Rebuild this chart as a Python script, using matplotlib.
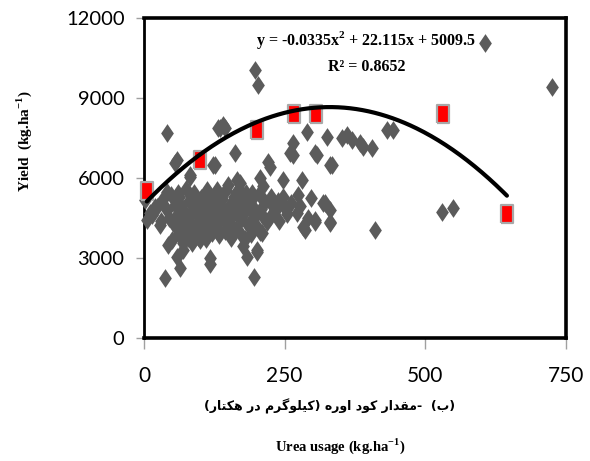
import numpy as np
import matplotlib
matplotlib.use("Agg")
import matplotlib.pyplot as plt
from matplotlib import font_manager as fm
from matplotlib.font_manager import FontProperties
from matplotlib.ft2font import FT2Font

# ---------------- data ----------------
field_x = [197, 203, 606, 725, 41, 135, 144, 131, 140,
           58, 82, 123, 162, 206, 220, 224, 247, 265, 259, 290, 281, 304, 325, 331,
           352, 361, 370, 384, 389, 405, 432, 443,
           411, 318, 331, 331, 304, 283, 530, 549,
           37, 64, 117, 195, 183, 201, 43, 69, 100, 210,
           5, 23, 41, 2, 10, 30, 15, 33, 48, 45, 20, 28, 50, 69, 58, 117,
           55, 126, 82, 165, 41, 60, 130, 171, 192, 183, 201, 206, 224, 227, 251, 272,
           291, 304, 322, 331, 286, 247, 274, 334, 307, 265,
           55, 55, 58, 62, 62, 65, 70, 72, 74, 78, 80, 80, 85, 88, 88, 92, 95, 96,
           100, 102, 104, 108, 110, 112, 115, 118, 120, 122, 126, 128, 130, 134, 136,
           138, 142, 144, 146, 150, 152, 155, 158, 160, 163, 166, 168, 170, 172, 175,
           178, 180, 182, 185, 188, 190, 192, 195, 198, 200, 205, 210, 215, 218, 225,
           66, 76, 90, 98, 106, 114, 124, 132, 140, 148, 156, 164, 174, 186, 196, 208,
           232, 238, 255, 262, 278, 296, 240, 212, 86, 150, 176]
field_y = [10050, 9500, 11060, 9410, 7690, 7870, 7870, 7870, 7990,
           6680, 6040, 6490, 6940, 6000, 6600, 6400, 5920, 7310, 6940, 7720, 5920, 6940, 7540, 6490,
           7500, 7610, 7420, 7310, 7160, 7120, 7800, 7800,
           4050, 5060, 4800, 4310, 4420, 4160, 4730, 4870,
           2250, 2620, 2770, 2290, 3040, 3230, 3490, 3300, 3670, 3940,
           4420, 4910, 4800, 5170, 4700, 4400, 4600, 5200, 5350, 4500, 4910, 4240, 3670, 3560, 3040, 3000,
           6560, 6490, 6110, 5920, 5470, 5440, 5550, 5810, 5440, 5060, 3300, 3970, 4540, 4990, 4870, 4690,
           4500, 4350, 5060, 4350, 4050, 5290, 5360, 6490, 6860, 6860,
           4200, 5000, 4600, 3900, 5300, 4450, 4800, 4100, 5600, 3750, 4400, 5150, 4700, 4000, 5450, 4250, 4950, 3800,
           4500, 5250, 4050, 4800, 3700, 5550, 4300, 5050, 3950, 4650, 5350, 4150, 4900, 3850, 4450,
           5200, 4700, 4000, 5550, 4350, 5000, 3750, 4600, 5300, 4100, 4850, 5600, 3950, 4450, 5150,
           4700, 3700, 5450, 4250, 4900, 3900, 5200, 4500, 4800, 4150, 5400, 4600, 5100, 4350, 5300,
           4950, 4550, 5100, 4350, 4650, 5000, 4450, 5300, 4550, 4750, 4200, 5450, 4900, 5050, 4600, 4850,
           4750, 5150, 4650, 5050, 4950, 5250, 4400, 5700, 3550, 5750, 3450]

mean_x = [5, 100, 200, 267, 306, 531, 645]
mean_y = [5500, 6680, 7800, 8400, 8400, 8400, 4650]

fit_coef = [-0.0335, 22.115, 5009.5]   # quadratic trend line shown on the chart
fit_range = [5, 645]

x_ticks = [0, 250, 500, 750]
y_ticks = [0, 3000, 6000, 9000, 12000]

eq_text = "y = -0.0335x$^{\\mathregular{2}}$ + 22.115x + 5009.5"
r2_text = "R\u00b2 = 0.8652"
fa_label = "(ب)  -مقدار کود اوره (کیلوگرم در هکتار)"
x_label = "Urea usage (kg.ha$^{\\mathregular{-1}}$)"
y_label = "Yield  (kg.ha$^{\\mathregular{-1}}$)"

# ---------------- fonts ----------------
names = {f.name for f in fm.fontManager.ttflist}
ytick_font = "Liberation Sans Narrow" if "Liberation Sans Narrow" in names else "Lato"
xtick_font = "Lato" if "Lato" in names else "DejaVu Sans"
serif = "Liberation Serif"

# ---------------- Persian shaping (presentation forms) ----------------
FORMS = {
    'ا': ('\uFE8D', '\uFE8E', None, None),
    'ب': ('\uFE8F', '\uFE90', '\uFE91', '\uFE92'),
    'ت': ('\uFE95', '\uFE96', '\uFE97', '\uFE98'),
    'د': ('\uFEA9', '\uFEAA', None, None),
    'ر': ('\uFEAD', '\uFEAE', None, None),
    'ق': ('\uFED5', '\uFED6', '\uFED7', '\uFED8'),
    'ل': ('\uFEDD', '\uFEDE', '\uFEDF', '\uFEE0'),
    'م': ('\uFEE1', '\uFEE2', '\uFEE3', '\uFEE4'),
    'ه': ('\uFEE9', '\uFEEA', '\uFEEB', '\uFEEC'),
    'و': ('\uFEED', '\uFEEE', None, None),
    'ک': ('\uFB8E', '\uFB8F', '\uFB90', '\uFB91'),
    'گ': ('\uFB92', '\uFB93', '\uFB94', '\uFB95'),
    'ی': ('\uFBFC', '\uFBFD', '\uFBFE', '\uFBFF'),
}
RIGHT_ONLY = set('اآدذرزژو')


def shape_rtl(s):
    s = s.replace('ك', 'ک').replace('ي', 'ی')
    out = []
    for i, c in enumerate(s):
        if c not in FORMS:
            out.append(c)
            continue
        prev = s[i - 1] if i > 0 else None
        nxt = s[i + 1] if i + 1 < len(s) else None
        jp = prev in FORMS and prev not in RIGHT_ONLY
        jn = c not in RIGHT_ONLY and nxt in FORMS
        f = FORMS[c]
        if jp and jn:
            g = f[3]
        elif jp:
            g = f[1]
        elif jn:
            g = f[2]
        else:
            g = f[0]
        out.append(g)
    vis = ''.join(out)[::-1]
    mirror = {'(': ')', ')': '('}
    return ''.join(mirror.get(ch, ch) for ch in vis)


fa_visual = shape_rtl(fa_label)
fa_weight = "bold"
try:
    p = fm.findfont(FontProperties(family="DejaVu Sans", weight="bold"))
    cm = FT2Font(p).get_charmap()
    if not all(ord(ch) in cm for ch in fa_visual if ord(ch) > 0x600):
        fa_weight = "normal"
except Exception:
    fa_weight = "normal"

# ---------------- figure ----------------
W, H = 590, 461
fig = plt.figure(figsize=(W / 100, H / 100), dpi=100)
ax = fig.add_axes([144 / W, 123 / H, 422 / W, 320 / H])

diamond = [(0, -0.5), (0.34, 0), (0, 0.5), (-0.34, 0), (0, -0.5)]
rect = [(-0.33, -0.5), (0.33, -0.5), (0.33, 0.5), (-0.33, 0.5), (-0.33, -0.5)]

ax.plot(field_x, field_y, linestyle="none", marker=diamond, ms=13.5,
        mfc="#5b5b5b", mec="none", zorder=3, clip_on=False)
ax.plot(mean_x, mean_y, linestyle="none", marker=rect, ms=12.5,
        mfc="#ff0000", mec="#a8a8a8", mew=1.6, zorder=4, clip_on=False)

xx = np.linspace(fit_range[0], fit_range[1], 300)
yy = np.polyval(fit_coef, xx)
ax.plot(xx, yy, color="black", lw=3.0, zorder=5, solid_capstyle="round")

ax.set_xlim(0, 750)
ax.set_ylim(0, 12000)
ax.set_xticks(x_ticks)
ax.set_yticks(y_ticks)
ax.set_xticklabels([str(v) for v in x_ticks], fontfamily=xtick_font, fontsize=15)
ax.set_yticklabels([str(v) for v in y_ticks], fontfamily=ytick_font, fontsize=14.5)
ax.tick_params(axis="x", length=8, width=1, color="#a0a0a0", pad=12)
ax.tick_params(axis="y", length=6, width=1, color="#a0a0a0", pad=8)
for side in ["top", "right", "bottom"]:
    ax.spines[side].set_linewidth(2.6)
ax.spines["left"].set_linewidth(2.0)
for s in ax.spines.values():
    s.set_color("black")
    s.set_zorder(2.5)

fig.text(366 / W, 1 - 40 / H, eq_text, ha="center", va="center",
         fontfamily=serif, fontweight="bold", fontsize=11.5)
fig.text(367 / W, 1 - 67 / H, r2_text, ha="center", va="center",
         fontfamily=serif, fontweight="bold", fontsize=11.5)

fig.text(330 / W, 1 - 406 / H, fa_visual, ha="center", va="center",
         fontfamily=["DejaVu Sans"], fontweight=fa_weight, fontsize=9)
fig.text(340 / W, 1 - 446 / H, x_label, ha="center", va="center",
         fontfamily=serif, fontweight="bold", fontsize=10.5)
fig.text(24 / W, 1 - 141 / H, y_label, ha="center", va="center", rotation=90,
         fontfamily=serif, fontweight="bold", fontsize=11)

fig.savefig("out.png", dpi=100)
